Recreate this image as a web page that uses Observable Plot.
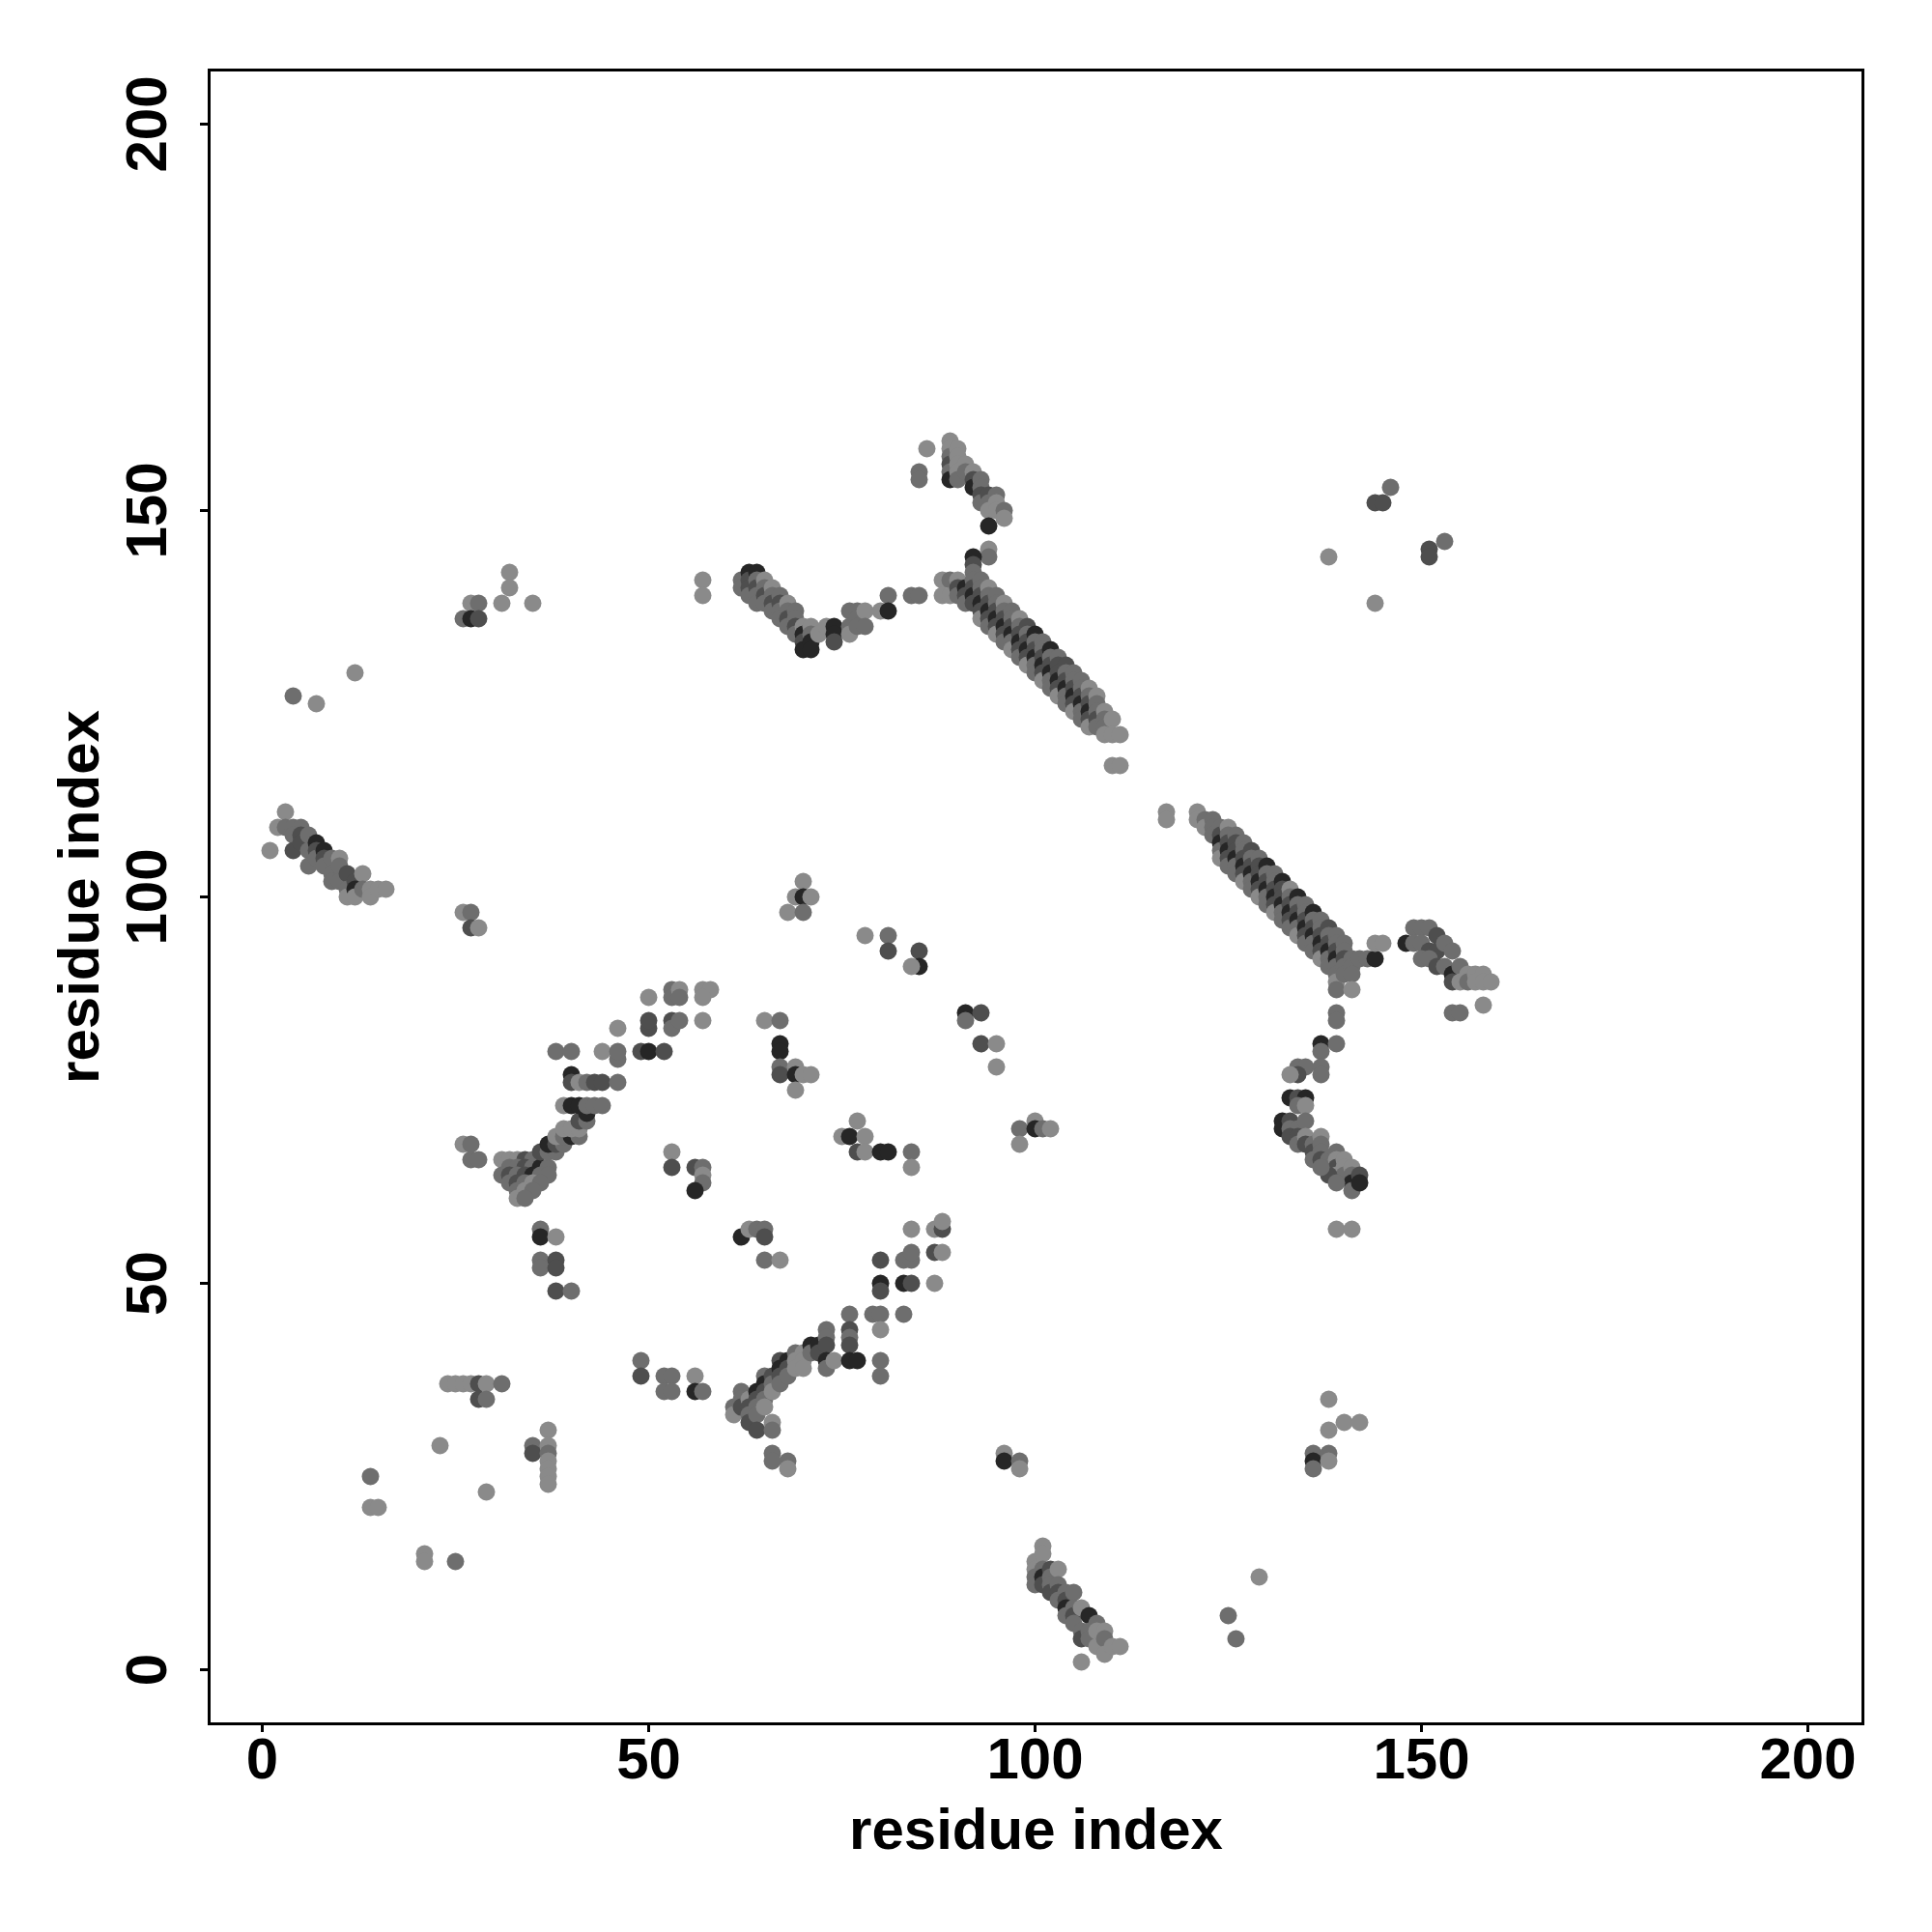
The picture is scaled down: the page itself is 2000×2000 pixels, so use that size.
<!DOCTYPE html>
<html><head><meta charset="utf-8">
<script src="https://cdn.jsdelivr.net/npm/d3@7"></script>
<script src="https://cdn.jsdelivr.net/npm/@observablehq/plot@0.6"></script>
<style>body{margin:0;background:#fff}</style>
</head><body><div id="chart"></div>
<script>
// Each entry: [residue i, residue j, shade level 1 (light) .. 4 (darkest)]
const clusterTopLeft = [[32,142,1],[32,140,1],[31,138,1],[35,138,1],[27,138,1],[28,138,2],[26,136,2],[27,136,4],[28,136,3],[12,129,1],[4,126,2],[7,125,1]];
const clusterLeft = [[1,106,1],[3,111,1],[2,109,1],[3,109,2],[4,109,2],[5,109,2],[4,108,2],[5,108,3],[4,106,3],[5,107,3],[6,108,2],[6,106,2],[6,104,2],[7,107,4],[7,106,3],[7,105,2],[8,106,4],[8,105,3],[8,104,2],[9,105,2],[9,103,2],[9,102,2],[10,105,1],[10,104,2],[10,102,2],[11,103,3],[11,101,2],[11,100,1],[12,102,3],[12,101,4],[12,100,1],[13,103,1],[13,101,2],[14,101,1],[14,100,1],[15,101,1],[16,101,1],
[26,98,1],[27,98,2],[27,96,3],[28,96,1]];
const clusterMidLeft = [[26,68,1],[27,68,2],[27,66,2],[28,66,2],
[31,66,1],[32,66,1],[33,66,1],[34,66,3],[35,66,2],
[32,65,2],[33,65,2],[34,65,3],[35,65,2],[36,65,4],[37,65,2],
[31,64,2],[32,64,3],[33,64,2],[34,64,3],[35,64,4],[36,64,2],[37,64,2],
[32,63,2],[33,63,3],[34,63,2],[35,63,1],[36,63,2],
[33,62,2],[34,62,1],[35,62,2],[33,61,1],[34,61,2],
[36,67,3],[37,67,2],[38,67,2],[37,68,4],[38,68,3],[39,68,2],
[38,69,1],[39,69,2],[40,69,4],[41,69,2],[39,70,1],[40,70,1],[41,70,1],
[41,71,3],[42,71,2],[42,72,4],
[39,73,1],[40,73,4],[41,73,4],[42,73,2],[43,73,2],[44,73,2],
[40,77,4],[40,76,3],[41,76,1],[42,76,2],[43,76,3],[44,76,3],[46,76,2],[46,79,2],
[38,80,2],[40,80,2],[44,80,1],[46,80,2],[49,80,3],[50,80,4],[52,80,3],
[46,83,1],[50,83,3],[50,84,3],
[50,87,1],[53,88,2],[53,87,2],[53,84,3],[53,83,2],[54,88,1],[54,87,2],[54,84,2],[57,88,1],[58,88,1],[57,87,1],[57,84,1],
[36,57,2],[36,56,4],[38,56,1],[36,53,2],[38,53,3],[36,52,2],[38,52,3],[38,49,3],[40,49,2]];
const clusterBottomLeft = [[24,37,1],[25,37,1],[26,37,1],[27,37,1],[28,37,3],[29,37,1],[31,37,2],[28,35,3],[29,35,2],[35,29,2],[35,28,3],[37,31,1],[37,29,1],[37,28,2],[37,27,1],[37,26,1],[37,25,1],[37,24,1],[14,25,2],[14,21,1],[15,21,1],[21,15,1],[21,14,1],[23,29,1],[25,14,2],[29,23,1]];
const clusterCentre = [[53,67,1],[53,65,3],[56,65,3],[57,65,2],[57,64,1],[57,63,2],[56,62,4],
[62,56,4],[63,57,1],[64,57,2],[65,57,2],[65,56,3],[65,53,2],[67,53,1],
[65,84,1],[67,84,2],[67,81,4],[67,80,4],[67,78,2],[67,77,3],[69,78,1],[69,77,4],[70,77,1],[71,77,1],[69,75,1],
[70,102,1],[69,100,1],[70,100,4],[71,100,1],[68,98,1],[70,98,2],
[78,95,1],[81,95,2],[81,93,3],[85,93,3],[85,91,4],[84,91,1],
[91,85,4],[93,85,3],[91,84,2],[93,81,3],[95,81,1],[95,78,1],
[77,71,1],[75,69,1],[76,69,4],[78,69,1],[77,67,3],[78,67,1],[80,67,4],[81,67,4],[84,67,2],[84,65,1],
[98,70,2],[100,71,1],[100,70,4],[101,70,2],[102,70,1],[98,68,1],
[80,53,3],[83,53,2],[84,53,2],[84,54,2],[84,57,1],[87,54,3],[87,57,1],[88,54,1],[88,57,3],[88,58,1],
[80,50,4],[80,49,3],[83,50,4],[84,50,3],[87,50,1],
[76,46,2],[79,46,2],[80,46,2],[83,46,2],[80,44,1],[80,40,2],[80,38,2],
[52,38,2],[53,38,2],[52,36,2],[53,36,2],[56,38,1],[56,36,4],[57,36,2],[49,40,2],[49,38,3],
[96,28,1],[96,27,4],[98,27,2],[98,26,1]];
const clusterLowBand = [[61,34,2],[61,33,1],[62,36,2],[62,35,2],[62,34,3],[63,35,1],[63,34,3],[63,33,2],[63,32,3],[64,36,4],[64,35,3],[64,34,2],[64,33,2],[64,31,3],[65,38,2],[65,37,4],[65,36,3],[65,35,2],[65,34,1],[66,38,3],[66,37,2],[66,36,1],[66,32,1],[66,31,2],[67,40,3],[67,39,4],[67,38,3],[67,37,2],[68,40,4],[68,39,3],[68,38,2],[69,41,2],[69,40,1],[69,39,1],[70,41,1],[70,40,1],[70,39,1],[71,42,4],[71,41,2],[72,42,4],[72,41,3],[73,44,2],[73,43,2],[73,42,3],[73,40,4],[73,39,2],[74,40,1],[76,44,3],[76,43,2],[76,42,3],[76,40,4],[77,40,4],[66,28,2],[66,27,2],[68,27,2],[68,26,1]];
const clusterUpperBand = [[57,141,1],[57,139,1],
[62,141,2],[62,140,2],[63,142,4],[63,141,3],[63,140,3],[63,139,2],[64,142,4],[64,141,2],[64,140,3],[64,139,2],[64,138,2],[65,141,1],[65,140,2],[65,139,3],[65,138,2],[66,140,1],[66,139,2],[66,138,3],[66,137,2],[67,139,2],[67,138,3],[67,137,2],[67,136,2],[68,138,1],[68,137,2],[68,136,3],[68,135,2],[69,137,2],[69,136,2],[69,135,3],[69,134,2],[70,135,1],[70,134,4],[70,133,3],[70,132,4],[71,135,1],[71,134,2],[71,133,4],[71,132,4],[72,134,1],[73,135,1],[74,135,4],[74,134,4],[74,133,3],[76,137,2],[76,135,2],[76,134,1],[77,137,2],[77,136,2],[77,135,2],[78,137,1],[78,135,2],[80,137,1],[81,139,2],[81,137,4],[84,139,2],[85,139,2],[88,141,1],[88,139,1],[89,141,2],[89,139,1],[90,141,1]];
const clusterTop = [[85,155,2],[85,154,2],[86,158,1],[89,159,1],[89,158,1],[89,157,2],[89,156,3],[89,155,2],[89,154,4],[90,158,1],[90,157,1],[90,156,1],[90,155,1],[90,154,2],[91,156,1],[91,155,2],[92,155,1],[92,154,3],[92,153,4],[93,154,2],[93,153,2],[93,152,3],[93,151,2],[94,152,3],[94,151,2],[94,150,1],[95,152,2],[95,151,1],[95,150,1],[96,150,2],[96,149,1],[94,148,4],[94,145,1],[94,144,2],[92,144,4],[92,143,3]];
const clusterDiagA = [[90,140,3],[90,139,2],[91,140,4],[91,139,3],[91,138,2],
[92,142,2],[92,141,2],[92,140,3],[92,139,4],[92,138,3],
[93,141,2],[93,140,2],[93,139,3],[93,138,4],[93,137,3],[93,136,1],
[94,140,1],[94,139,2],[94,138,3],[94,137,4],[94,136,3],[94,135,2],
[95,139,2],[95,138,2],[95,137,3],[95,136,4],[95,135,3],[95,134,1],
[96,138,1],[96,137,2],[96,136,3],[96,135,4],[96,134,3],[96,133,2],
[97,137,2],[97,136,2],[97,135,3],[97,134,4],[97,133,2],[97,132,1],
[98,136,1],[98,135,2],[98,134,3],[98,133,4],[98,132,3],[98,131,2],
[99,135,3],[99,134,2],[99,133,3],[99,132,4],[99,131,3],[99,130,1],
[100,134,4],[100,133,2],[100,132,3],[100,131,4],[100,130,2],[100,129,2],
[101,133,2],[101,132,2],[101,131,3],[101,130,4],[101,129,3],[101,128,1],
[102,132,4],[102,131,2],[102,130,3],[102,129,4],[102,128,2],[102,127,2],
[103,131,2],[103,130,3],[103,129,3],[103,128,4],[103,127,3],[103,126,1],
[104,130,3],[104,129,2],[104,128,3],[104,127,4],[104,126,2],[104,125,2],
[105,129,2],[105,128,2],[105,127,3],[105,126,4],[105,125,3],[105,124,1],
[106,128,2],[106,127,2],[106,126,3],[106,125,4],[106,124,2],[106,123,2],
[107,127,1],[107,126,2],[107,125,3],[107,124,4],[107,123,3],[107,122,1],
[108,126,1],[108,125,2],[108,124,2],[108,123,3],[108,122,2],
[109,124,1],[109,123,2],[109,122,2],[109,121,1],
[110,123,1],[110,121,1],[110,117,1],[111,121,1],[111,117,1]];
const clusterDiagB = [[117,111,1],[117,110,1],[121,111,1],[121,110,1],[122,110,2],[122,109,1],[123,110,2],[123,109,2],[123,108,2],
[124,109,2],[124,108,3],[124,107,4],[124,106,2],[124,105,1],
[125,109,1],[125,108,2],[125,107,3],[125,106,4],[125,105,3],[125,104,2],
[126,108,2],[126,107,3],[126,106,3],[126,105,4],[126,104,2],[126,103,2],
[127,107,2],[127,106,2],[127,105,3],[127,104,4],[127,103,3],[127,102,1],
[128,106,3],[128,105,2],[128,104,3],[128,103,4],[128,102,2],[128,101,2],
[129,105,2],[129,104,3],[129,103,3],[129,102,4],[129,101,3],[129,100,1],
[130,104,4],[130,103,2],[130,102,3],[130,101,4],[130,100,2],[130,99,2],
[131,103,2],[131,102,2],[131,101,3],[131,100,4],[131,99,3],[131,98,1],
[132,102,4],[132,101,3],[132,100,3],[132,99,4],[132,98,2],[132,97,2],
[133,101,1],[133,100,2],[133,99,3],[133,98,4],[133,97,3],[133,96,2],
[134,100,4],[134,99,2],[134,98,3],[134,97,4],[134,96,2],[134,95,1],
[135,99,2],[135,98,2],[135,97,3],[135,96,4],[135,95,3],[135,94,2],
[136,98,4],[136,97,2],[136,96,3],[136,95,4],[136,94,2],[136,93,2],
[137,97,2],[137,96,2],[137,95,3],[137,94,4],[137,93,3],[137,92,1],
[138,96,3],[138,95,2],[138,94,3],[138,93,4],[138,92,2],[138,91,2],
[139,95,2],[139,94,2],[139,93,3],[139,92,4],[139,91,2],[139,90,2],[139,89,1],[139,88,2],
[140,94,2],[140,93,2],[140,92,3],[140,91,2],[140,90,2],
[141,92,2],[141,91,2],[141,90,2],[141,88,1],
[142,92,2],[143,92,2],[144,92,4],[144,94,1],[145,94,1]];
const clusterDiagC = [[137,81,4],[139,81,2],[137,80,2],[139,85,2],[139,84,2],
[134,78,2],[135,78,2],[137,78,2],[137,77,2],[134,77,3],[133,77,1],
[133,74,4],[134,74,3],[135,74,4],[134,73,2],[135,73,1],
[132,71,4],[132,70,4],[133,71,3],[133,70,2],[134,70,2],[135,71,2],
[133,69,3],[134,69,3],[134,68,2],[135,69,1],[135,68,3],[136,68,2],[136,67,3],[137,69,1],[137,68,2],[137,67,2],
[136,66,2],[137,66,3],[138,66,2],[138,65,2],[139,67,2],[139,66,1],[139,65,3],[139,64,1],[140,66,1],[140,65,1],[140,64,2],[141,65,1],[141,64,2],[141,63,4],[141,62,2],[142,64,3],[142,63,4],[138,64,3],[139,63,2],[137,65,2],
[139,57,1],[141,57,1]];
const clusterRight = [[148,94,4],[149,96,2],[150,96,2],[151,96,2],[152,95,3],[149,94,2],[150,94,2],[151,93,3],[152,93,3],[153,94,2],[154,93,2],[150,92,2],[151,92,2],[152,91,3],[153,91,2],[154,90,4],[155,91,2],[154,89,3],[155,89,1],[156,90,1],[156,89,2],[157,90,1],[157,89,1],[158,90,1],[158,89,1],[159,89,1],[154,85,2],[155,85,2],[158,86,1]];
const clusterBottomRight = [[100,14,1],[100,13,1],[100,12,2],[100,11,2],[101,16,1],[101,15,1],[101,13,2],[101,12,4],[101,11,3],[102,13,3],[102,12,2],[102,11,2],[102,10,3],[103,13,1],[103,11,2],[103,10,3],[103,9,2],[104,10,2],[104,9,3],[104,8,4],[104,7,2],[105,10,2],[105,8,2],[105,7,3],[105,6,2],[106,8,1],[106,5,2],[106,4,3],[106,1,1],[107,7,4],[107,5,2],[107,4,2],[108,6,2],[108,5,1],[108,3,1],[109,5,1],[109,4,2],[109,2,1],[110,3,1],[111,3,1],
[125,7,2],[126,4,2],[129,12,1],[136,28,2],[136,27,4],[136,26,2],[138,28,2],[138,27,1],[138,31,1],[138,35,1],[140,32,1],[142,32,1]];
const clusterTopRight = [[146,153,2],[144,151,3],[145,151,3],[138,144,1],[144,138,1],[151,145,3],[151,144,3],[153,146,2]];

const xTicks = [0, 50, 100, 150, 200];
const yTicks = [0, 50, 100, 150, 200];
const xTitle = "residue index";
const yTitle = "residue index";
const shadeColors = {1: "#8a8a8a", 2: "#6e6e6e", 3: "#4e4e4e", 4: "#262626"};

const points = [].concat(clusterTopLeft, clusterLeft, clusterMidLeft, clusterBottomLeft, clusterCentre,
  clusterLowBand, clusterUpperBand, clusterTop, clusterDiagA, clusterDiagB, clusterDiagC,
  clusterRight, clusterBottomRight, clusterTopRight).map(([i, j, s]) => ({i, j, s}));

const font = "'Liberation Sans', Arial, Helvetica, sans-serif";
const chart = Plot.plot({
  width: 2000, height: 2000,
  marginLeft: 216, marginRight: 72, marginTop: 72, marginBottom: 216,
  style: {fontFamily: font, background: "#fff", color: "#000"},
  x: {domain: [-6.875, 207.125]},
  y: {domain: [-7, 207]},
  color: {type: "identity"},
  marks: [
    Plot.dot(points, {x: "i", y: "j", r: 9, fill: d => shadeColors[d.s]}),
    Plot.frame({stroke: "#000", strokeWidth: 3}),
    Plot.axisX(xTicks, {tickSize: 9, tickPadding: 5, strokeWidth: 3, fontSize: 60, fontWeight: "bold", label: null, tickFormat: d => String(d)}),
    Plot.axisY(yTicks, {tickSize: 9, tickPadding: 36, tickRotate: -90, strokeWidth: 3, fontSize: 60, fontWeight: "bold", label: null, tickFormat: d => String(d)}),
    Plot.text([xTitle], {text: d => d, frameAnchor: "bottom", dy: 129, lineAnchor: "bottom", textAnchor: "middle", fontSize: 60, fontWeight: "bold"}),
    Plot.text([yTitle], {text: d => d, frameAnchor: "left", dx: -115, rotate: -90, lineAnchor: "bottom", textAnchor: "middle", fontSize: 60, fontWeight: "bold"})
  ]
});
document.getElementById("chart").appendChild(chart);
</script>
</body></html>
